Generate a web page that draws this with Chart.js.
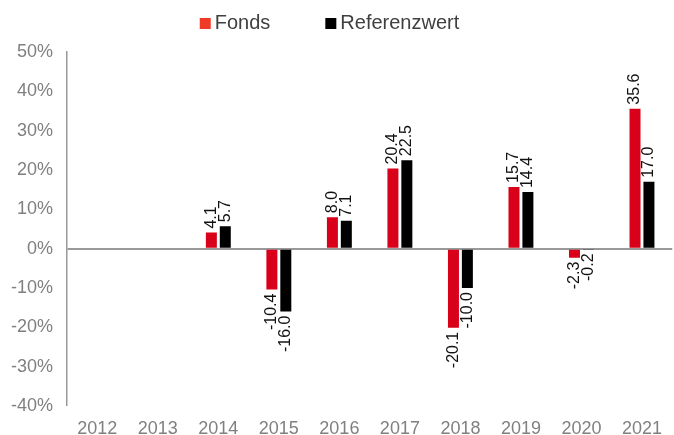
<!DOCTYPE html>
<html>
<head>
<meta charset="utf-8">
<script src="https://cdn.jsdelivr.net/npm/chart.js@4"></script>
<style>
  html, body { margin: 0; padding: 0; background: #fff; overflow: hidden; }
  #wrap { width: 679px; height: 452px; margin-left: -3px; position: relative; }
</style>
</head>
<body>
<div id="wrap"><canvas id="chart"></canvas></div>
<script>
const years = ['2012', '2013', '2014', '2015', '2016', '2017', '2018', '2019', '2020', '2021'];
const fonds = [null, null, 4.1, -10.4, 8.0, 20.4, -20.1, 15.7, -2.3, 35.6];
const referenz = [null, null, 5.7, -16.0, 7.1, 22.5, -10.0, 14.4, -0.2, 17.0];
const seriesNames = ['Fonds', 'Referenzwert'];

const RED = '#d9001a';
const BLACK = '#000000';
const GREY = '#808080';

// rotated value labels at the end of each bar
const valueLabels = {
  id: 'valueLabels',
  afterDatasetsDraw(chart) {
    const ctx = chart.ctx;
    ctx.save();
    ctx.font = '16px "Liberation Sans", Arial, sans-serif';
    ctx.fillStyle = '#111';
    ctx.textBaseline = 'middle';
    chart.data.datasets.forEach((ds, di) => {
      const meta = chart.getDatasetMeta(di);
      meta.data.forEach((bar, i) => {
        const v = ds.data[i];
        if (v === null || v === undefined) return;
        const txt = v.toFixed(1);
        ctx.save();
        ctx.translate(bar.x, bar.y);
        ctx.rotate(-Math.PI / 2);
        if (v >= 0) { ctx.textAlign = 'left'; ctx.fillText(txt, 4, 0); }
        else { ctx.textAlign = 'right'; ctx.fillText(txt, -4, 0); }
        ctx.restore();
      });
    });
    ctx.restore();
  }
};

// legend drawn to match the original spacing
const topLegend = {
  id: 'topLegend',
  afterDraw(chart) {
    const ctx = chart.ctx;
    const colors = ['#ee3a26', BLACK];
    ctx.save();
    ctx.font = '20px "Liberation Sans", Arial, sans-serif';
    ctx.textBaseline = 'middle';
    ctx.textAlign = 'left';
    const box = 11, gap = 4, itemGap = 55;
    const widths = seriesNames.map(n => ctx.measureText(n).width);
    const total = widths.reduce((a, w) => a + box + gap + w, 0) + itemGap * (seriesNames.length - 1);
    let x = chart.width / 2 - 7 - total / 2;
    seriesNames.forEach((n, i) => {
      ctx.fillStyle = colors[i];
      ctx.fillRect(x, 18, box, box);
      x += box + gap;
      ctx.fillStyle = '#404040';
      ctx.fillText(n, x, 23);
      x += widths[i] + itemGap;
    });
    ctx.restore();
  }
};

new Chart(document.getElementById('chart'), {
  type: 'bar',
  data: {
    labels: years,
    datasets: [
      { label: seriesNames[0], data: fonds, backgroundColor: RED, barPercentage: 0.79, categoryPercentage: 0.46 },
      { label: seriesNames[1], data: referenz, backgroundColor: BLACK, barPercentage: 0.79, categoryPercentage: 0.46 }
    ]
  },
  options: {
    responsive: true,
    maintainAspectRatio: false,
    animation: false,
    layout: { padding: { top: 52, left: 0, right: 0, bottom: 0 } },
    plugins: {
      legend: { display: false },
      tooltip: { enabled: false }
    },
    scales: {
      x: {
        grid: { display: false, drawTicks: false },
        border: { display: false },
        ticks: {
          color: GREY,
          font: { size: 18, family: '"Liberation Sans", Arial, sans-serif', lineHeight: 1 },
          padding: 14,
          maxRotation: 0,
          autoSkip: false
        }
      },
      y: {
        min: -40,
        max: 50,
        grid: {
          drawTicks: false,
          color: c => c.tick && c.tick.value === 0 ? '#999999' : 'rgba(0,0,0,0)',
          lineWidth: c => c.tick && c.tick.value === 0 ? 2 : 0
        },
        border: { display: true, color: '#999999', width: 1.5 },
        ticks: {
          stepSize: 10,
          color: GREY,
          font: { size: 18, family: '"Liberation Sans", Arial, sans-serif' },
          padding: 14,
          callback: v => v + '%'
        }
      }
    }
  },
  plugins: [valueLabels, topLegend]
});
</script>
</body>
</html>
